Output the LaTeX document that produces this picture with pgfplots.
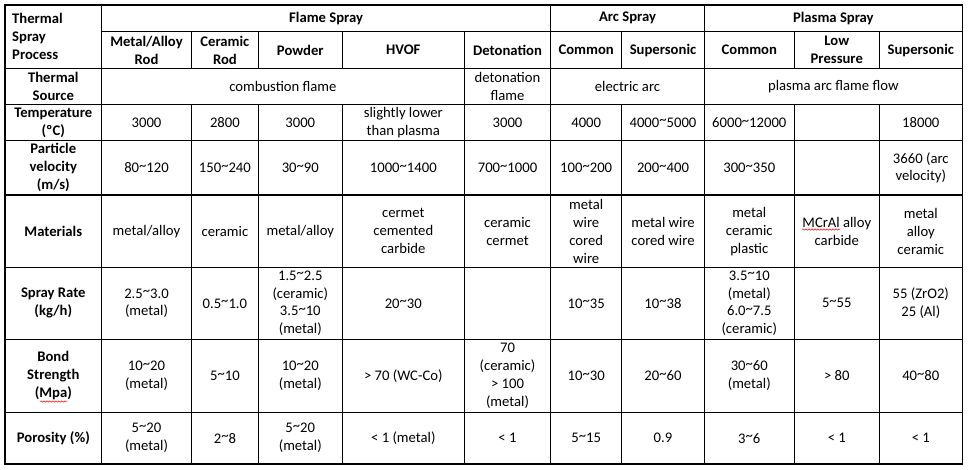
\documentclass[border=0pt]{standalone}
\usepackage{fontspec}
\setmainfont{Carlito}
\usepackage{pgfplots}
\pgfplotsset{compat=1.18}
\usetikzlibrary{decorations.pathmorphing}
\newcommand{\tl}{\raisebox{0.35ex}{\textasciitilde}}
\tikzset{cell/.style={font=\fontsize{14.67}{17.9}\selectfont, align=center, inner sep=0pt, anchor=center},
  bcell/.style={font=\fontsize{14.67}{17.9}\selectfont\bfseries, align=center, inner sep=0pt, anchor=center}}
\begin{document}
\begin{tikzpicture}
\begin{axis}[hide axis, x=1pt, y=1pt, xmin=0, xmax=971, ymin=0, ymax=470, y dir=reverse,
  clip=false, scale only axis]
\fill[white] (axis cs:0,0) rectangle (axis cs:971,470);
% grid lines
\addplot[black, line width=1.1pt, line cap=rect, unbounded coords=jump, mark=none] coordinates {
(5,5) (962.3,5) (nan,nan)
(101.5,31.7) (962.3,31.7) (nan,nan)
(5,68.7) (962.3,68.7) (nan,nan)
(5,104.7) (962.3,104.7) (nan,nan)
(5,140.7) (962.3,140.7) (nan,nan)
(5,195) (962.3,195) (nan,nan)
(5,267.3) (962.3,267.3) (nan,nan)
(5,339.3) (962.3,339.3) (nan,nan)
(5,412.3) (962.3,412.3) (nan,nan)
(5,464) (962.3,464) (nan,nan)
(5,5) (5,464) (nan,nan)
(101.5,5) (101.5,464) (nan,nan)
(191.5,31.7) (191.5,68.7) (nan,nan) (191.5,104.7) (191.5,464) (nan,nan)
(258.3,31.7) (258.3,68.7) (nan,nan) (258.3,104.7) (258.3,464) (nan,nan)
(342.3,31.7) (342.3,68.7) (nan,nan) (342.3,104.7) (342.3,464) (nan,nan)
(464.3,31.7) (464.3,464) (nan,nan)
(550.7,5) (550.7,464) (nan,nan)
(621.7,31.7) (621.7,68.7) (nan,nan) (621.7,104.7) (621.7,464) (nan,nan)
(704.3,5) (704.3,464) (nan,nan)
(794.3,31.7) (794.3,68.7) (nan,nan) (794.3,104.7) (794.3,464) (nan,nan)
(879.3,31.7) (879.3,68.7) (nan,nan) (879.3,104.7) (879.3,464) (nan,nan)
(962.3,5) (962.3,464)
};
% header
\node[bcell, anchor=west, align=left] at (axis cs:12,36.8) {Thermal\\Spray\\Process};
\node[bcell] at (axis cs:326.1,18.3) {Flame Spray};
\node[bcell] at (axis cs:627.5,18.3) {Arc Spray};
\node[bcell] at (axis cs:833.3,18.3) {Plasma Spray};
\node[bcell] at (axis cs:146.5,50.2) {Metal/Alloy\\Rod};
\node[bcell] at (axis cs:224.9,50.2) {Ceramic\\Rod};
\node[bcell] at (axis cs:300.3,50.2) {Powder};
\node[bcell] at (axis cs:403.3,50.2) {HVOF};
\node[bcell] at (axis cs:507.5,50.2) {Detonation};
\node[bcell] at (axis cs:586.2,50.2) {Common};
\node[bcell] at (axis cs:663,50.2) {Supersonic};
\node[bcell] at (axis cs:749.3,50.2) {Common};
\node[bcell] at (axis cs:836.8,50.2) {Low\\Pressure};
\node[bcell] at (axis cs:920.8,50.2) {Supersonic};
% row labels
\node[bcell] at (axis cs:53.3,86.7) {Thermal\\Source};
\node[bcell] at (axis cs:53.3,122.7) {Temperature\\(ºC)};
\node[bcell] at (axis cs:53.3,167.8) {Particle\\velocity\\(m/s)};
\node[bcell] at (axis cs:53.3,231.2) {Materials};
\node[bcell] at (axis cs:53.3,303.3) {Spray Rate\\(kg/h)};
\node[bcell] at (axis cs:53.3,375.8) {Bond\\Strength\\(Mpa)};
\node[bcell] at (axis cs:53.3,438.2) {Porosity (\%)};
% thermal source
\node[cell] at (axis cs:282.9,86.7) {combustion flame};
\node[cell] at (axis cs:507.5,86.7) {detonation\\flame};
\node[cell] at (axis cs:627.5,86.7) {electric arc};
\node[cell] at (axis cs:833.3,86.7) {plasma arc flame flow};
% temperature
\node[cell] at (axis cs:146.5,122.7) {3000};
\node[cell] at (axis cs:224.9,122.7) {2800};
\node[cell] at (axis cs:300.3,122.7) {3000};
\node[cell] at (axis cs:403.3,122.7) {slightly lower\\than plasma};
\node[cell] at (axis cs:507.5,122.7) {3000};
\node[cell] at (axis cs:586.2,122.7) {4000};
\node[cell] at (axis cs:663,122.7) {4000\tl5000};
\node[cell] at (axis cs:749.3,122.7) {6000\tl12000};
\node[cell] at (axis cs:920.8,122.7) {18000};
% particle velocity
\node[cell] at (axis cs:146.5,167.8) {80\tl120};
\node[cell] at (axis cs:224.9,167.8) {150\tl240};
\node[cell] at (axis cs:300.3,167.8) {30\tl90};
\node[cell] at (axis cs:403.3,167.8) {1000\tl1400};
\node[cell] at (axis cs:507.5,167.8) {700\tl1000};
\node[cell] at (axis cs:586.2,167.8) {100\tl200};
\node[cell] at (axis cs:663,167.8) {200\tl400};
\node[cell] at (axis cs:749.3,167.8) {300\tl350};
\node[cell] at (axis cs:920.8,167.8) {3660 (arc\\velocity)};
% materials
\node[cell] at (axis cs:146.5,231.2) {metal/alloy};
\node[cell] at (axis cs:224.9,231.2) {ceramic};
\node[cell] at (axis cs:300.3,231.2) {metal/alloy};
\node[cell] at (axis cs:403.3,231.2) {cermet\\cemented\\carbide};
\node[cell] at (axis cs:507.5,231.2) {ceramic\\cermet};
\node[cell] at (axis cs:586.2,231.2) {metal\\wire\\cored\\wire};
\node[cell] at (axis cs:663,231.2) {metal wire\\cored wire};
\node[cell] at (axis cs:749.3,231.2) {metal\\ceramic\\plastic};
\node[cell] at (axis cs:836.8,231.2) {MCrAl alloy\\carbide};
\node[cell] at (axis cs:920.8,231.2) {metal\\alloy\\ceramic};
% spray rate
\node[cell] at (axis cs:146.5,303.3) {2.5\tl3.0\\(metal)};
\node[cell] at (axis cs:224.9,303.3) {0.5\tl1.0};
\node[cell] at (axis cs:300.3,303.3) {1.5\tl2.5\\(ceramic)\\3.5\tl10\\(metal)};
\node[cell] at (axis cs:403.3,303.3) {20\tl30};
\node[cell] at (axis cs:586.2,303.3) {10\tl35};
\node[cell] at (axis cs:663,303.3) {10\tl38};
\node[cell] at (axis cs:749.3,303.3) {3.5\tl10\\(metal)\\6.0\tl7.5\\(ceramic)};
\node[cell] at (axis cs:836.8,303.3) {5\tl55};
\node[cell] at (axis cs:920.8,303.3) {55 (ZrO2)\\25 (Al)};
% bond strength
\node[cell] at (axis cs:146.5,375.8) {10\tl20\\(metal)};
\node[cell] at (axis cs:224.9,375.8) {5\tl10};
\node[cell] at (axis cs:300.3,375.8) {10\tl20\\(metal)};
\node[cell] at (axis cs:403.3,375.8) {> 70 (WC-Co)};
\node[cell] at (axis cs:507.5,375.8) {70\\(ceramic)\\> 100\\(metal)};
\node[cell] at (axis cs:586.2,375.8) {10\tl30};
\node[cell] at (axis cs:663,375.8) {20\tl60};
\node[cell] at (axis cs:749.3,375.8) {30\tl60\\(metal)};
\node[cell] at (axis cs:836.8,375.8) {> 80};
\node[cell] at (axis cs:920.8,375.8) {40\tl80};
% porosity
\node[cell] at (axis cs:146.5,438.2) {5\tl20\\(metal)};
\node[cell] at (axis cs:224.9,438.2) {2\tl8};
\node[cell] at (axis cs:300.3,438.2) {5\tl20\\(metal)};
\node[cell] at (axis cs:403.3,438.2) {< 1 (metal)};
\node[cell] at (axis cs:507.5,438.2) {< 1};
\node[cell] at (axis cs:586.2,438.2) {5\tl15};
\node[cell] at (axis cs:663,438.2) {0.9};
\node[cell] at (axis cs:749.3,438.2) {3\tl6};
\node[cell] at (axis cs:836.8,438.2) {< 1};
\node[cell] at (axis cs:920.8,438.2) {< 1};
% spell-check squiggles
\draw[red, line width=0.5pt, decorate, decoration={snake, amplitude=0.7pt, segment length=3pt}] (axis cs:40,401.5) -- (axis cs:67,401.5);
\draw[red, line width=0.5pt, decorate, decoration={snake, amplitude=0.7pt, segment length=3pt}] (axis cs:802,229.5) -- (axis cs:840,229.5);
\end{axis}
\end{tikzpicture}
\end{document}
